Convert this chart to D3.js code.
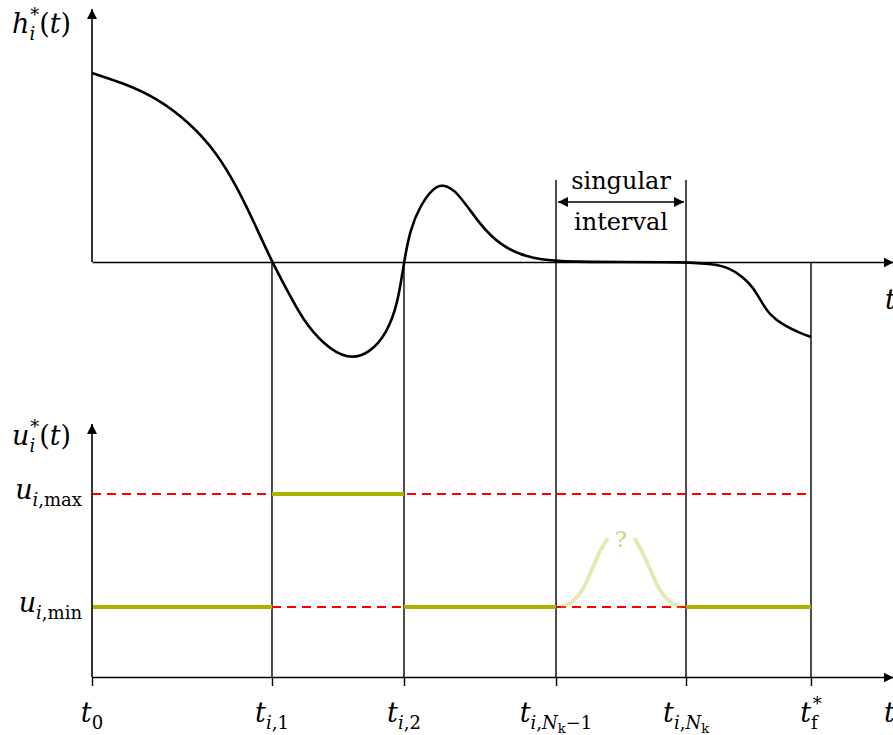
<!DOCTYPE html>
<html>
<head>
<meta charset="utf-8">
<script src="https://cdn.jsdelivr.net/npm/d3@7"></script>
<style>
  body { margin: 0; background: #fff; }
  text { font-family: "DejaVu Serif", serif; }
</style>
</head>
<body>
<div id="chart"></div>
<script>
// switching times t0, t_i1, t_i2, t_iNk-1, t_iNk, tf* (time units 0..100)
const switchTimes = [0, 22.47, 38.95, 57.93, 74.16, 89.76];
const switchTops = [null, "zero", "zero", "singular", "singular", "zero"];

// h_i*(t) curve
const hT = [0, 3.87, 8.11, 12.23, 15.6, 18.1, 20.1, 22.47, 24.34, 26.34, 28.84, 31.96, 34.71, 36.83, 38.2, 38.95,
            39.7, 40.95, 42.57, 43.82, 45.57, 48.44, 50.94, 54.06, 57.93, 65.9, 74.16,
            77.53, 79.65, 81.27, 82.52, 83.65, 84.64, 86.27, 88.39, 89.76];
const hV = [1.89, 1.79, 1.64, 1.39, 1.09, 0.75, 0.42, 0, -0.28, -0.58, -0.82, -0.98, -0.91, -0.71, -0.41, 0,
            0.32, 0.56, 0.74, 0.78, 0.71, 0.37, 0.17, 0.05, 0, 0, 0,
            -0.02, -0.06, -0.15, -0.25, -0.41, -0.53, -0.63, -0.71, -0.75];

// u_i*(t): level on each arc (0 = u_min, 1 = u_max, null = singular)
const arcLevels = [0, 1, 0, null, 0];
const uLevels = [1, 0];

// undetermined control on the singular arc (pale bump)
const bellLeftT = [58.55, 59.9, 61.2, 62.4, 63.4, 64.4];
const bellLeftU = [0, 0.044, 0.15, 0.33, 0.49, 0.61];
const bellRightT = [67.7, 68.66, 69.7, 70.9, 72.2, 73.66];
const bellRightU = [0.61, 0.49, 0.33, 0.15, 0.044, 0];

const W = 893, H = 735;
const olive = "#a9b400";

const svg = d3.select("#chart").append("svg")
  .attr("width", W).attr("height", H);

const defs = svg.append("defs");
defs.append("marker")
  .attr("id", "arrow")
  .attr("viewBox", "0 0 10 10")
  .attr("refX", 10).attr("refY", 5)
  .attr("markerWidth", 10).attr("markerHeight", 12)
  .attr("markerUnits", "userSpaceOnUse")
  .attr("orient", "auto-start-reverse")
  .append("path")
    .attr("d", "M0,0L10,5L0,10z")
    .attr("fill", "#000");

const x = d3.scaleLinear().domain([0, 100]).range([92, 893]);
const yh = d3.scaleLinear().domain([0, 1]).range([262, 162]);
const yu = d3.scaleLinear().domain([0, 1]).range([607, 494]);

const hData = hT.map((t, i) => ({t: t, v: hV[i]}));

// math-ish label: parts = [text, kind, dx]
const levels = {i: 0, r: 0, si: 7, sr: 7, pr: -12, pi: -12, ssr: 11};
function mathText(g, px, py, parts, anchor) {
  const txt = g.append("text")
    .attr("x", px).attr("y", py)
    .attr("text-anchor", anchor || "start")
    .attr("fill", "#000");
  let cur = 0;
  parts.forEach(p => {
    const k = p[1];
    const lv = levels[k];
    const size = (k == "i" || k == "r") ? 27 : (k == "ssr" ? 13 : 18);
    txt.append("tspan")
      .attr("dy", lv - cur)
      .attr("dx", p[2] || 0)
      .style("font-size", size + "px")
      .style("font-style", (k == "i" || k == "si" || k == "pi") ? "italic" : "normal")
      .text(p[0]);
    cur = lv;
  });
  return txt;
}

// ---------- upper panel ----------
const gTop = svg.append("g");

// vertical switching lines
const tops = {zero: yh(0), singular: 180};
gTop.selectAll("line.sw")
  .data(switchTimes.slice(1))
  .enter()
  .append("line")
    .attr("x1", d => x(d)).attr("x2", d => x(d))
    .attr("y1", (d, i) => tops[switchTops[i + 1]])
    .attr("y2", 677)
    .attr("stroke", "#000")
    .attr("stroke-width", 1.4);

// horizontal axis (t) of upper panel
gTop.append("g")
  .attr("transform", "translate(0," + yh(0) + ")")
  .call(d3.axisBottom(x).tickValues([]).tickSizeOuter(0))
  .call(g => g.select(".domain").attr("stroke-width", 1.6).attr("marker-end", "url(#arrow)"));

// vertical axis
gTop.append("line")
  .attr("x1", x(0)).attr("x2", x(0))
  .attr("y1", yh(0)).attr("y2", 9)
  .attr("stroke", "#000").attr("stroke-width", 1.6)
  .attr("marker-end", "url(#arrow)");

gTop.append("path")
  .datum(hData)
  .attr("fill", "none")
  .attr("stroke", "#000")
  .attr("stroke-width", 2.6)
  .attr("stroke-linejoin", "round")
  .attr("d", d3.line().x(d => x(d.t)).y(d => yh(d.v)).curve(d3.curveBasis));

mathText(gTop, 12, 33, [["h", "i"], ["i", "si"], ["*", "pr", -5], ["(", "r"], ["t", "i"], [")", "r"]]);
mathText(gTop, 885, 309, [["t", "i"]]);

// singular interval annotation
const sMid = (x(switchTimes[3]) + x(switchTimes[4])) / 2;
gTop.append("text").attr("x", sMid).attr("y", 189).attr("text-anchor", "middle")
  .style("font-size", "24px").text("singular");
gTop.append("text").attr("x", sMid).attr("y", 230).attr("text-anchor", "middle")
  .style("font-size", "24px").text("interval");
gTop.append("line")
  .attr("x1", x(switchTimes[3]) + 2).attr("x2", x(switchTimes[4]) - 2)
  .attr("y1", 202).attr("y2", 202)
  .attr("stroke", "#000").attr("stroke-width", 1.4)
  .attr("marker-start", "url(#arrow)")
  .attr("marker-end", "url(#arrow)");

// ---------- lower panel ----------
const gBot = svg.append("g");

// constraint levels (red dashed)
gBot.selectAll("line.lim")
  .data(uLevels)
  .enter()
  .append("line")
    .attr("x1", x(0)).attr("x2", x(switchTimes[5]))
    .attr("y1", d => yu(d)).attr("y2", d => yu(d))
    .attr("stroke", "#ff0000")
    .attr("stroke-width", 2)
    .attr("stroke-dasharray", "9,6");

// optimal control arcs
const arcs = arcLevels.map((lv, i) => ({a: switchTimes[i], b: switchTimes[i + 1], lv: lv}))
  .filter(d => d.lv !== null);
gBot.selectAll("line.arc")
  .data(arcs)
  .enter()
  .append("line")
    .attr("x1", d => x(d.a)).attr("x2", d => x(d.b))
    .attr("y1", d => yu(d.lv)).attr("y2", d => yu(d.lv))
    .attr("stroke", olive)
    .attr("stroke-width", 4);

// pale bump on singular arc
const bellLine = d3.line().x(d => x(d.t)).y(d => yu(d.u)).curve(d3.curveMonotoneX);
[[bellLeftT, bellLeftU], [bellRightT, bellRightU]].forEach(b => {
  gBot.append("path")
    .datum(b[0].map((t, i) => ({t: t, u: b[1][i]})))
    .attr("fill", "none")
    .attr("stroke", olive)
    .attr("stroke-opacity", 0.3)
    .attr("stroke-width", 4)
    .attr("d", bellLine);
});
gBot.append("text").attr("x", sMid).attr("y", 547).attr("text-anchor", "middle")
  .style("font-size", "22px").attr("fill", olive).attr("fill-opacity", 0.6).text("?");

// bottom axis with ticks at switching times
gBot.append("g")
  .attr("transform", "translate(0,677)")
  .call(d3.axisBottom(x).tickValues(switchTimes).tickSize(9).tickSizeOuter(0).tickFormat(""))
  .call(g => g.select(".domain").attr("stroke-width", 1.6).attr("marker-end", "url(#arrow)"))
  .call(g => g.selectAll(".tick line").attr("stroke-width", 1.4));

// vertical axis
gBot.append("line")
  .attr("x1", x(0)).attr("x2", x(0))
  .attr("y1", 677).attr("y2", 424)
  .attr("stroke", "#000").attr("stroke-width", 1.6)
  .attr("marker-end", "url(#arrow)");

mathText(gBot, 12, 445, [["u", "i"], ["i", "si"], ["*", "pr", -5], ["(", "r"], ["t", "i"], [")", "r"]]);
mathText(gBot, 82, 499, [["u", "i"], ["i", "si"], [",", "sr"], ["max", "sr"]], "end");
mathText(gBot, 82, 612, [["u", "i"], ["i", "si"], [",", "sr"], ["min", "sr"]], "end");

const tickLabels = [
  [["t", "i"], ["0", "sr"]],
  [["t", "i"], ["i", "si"], [",1", "sr"]],
  [["t", "i"], ["i", "si"], [",2", "sr"]],
  [["t", "i"], ["i", "si"], [",", "sr"], ["N", "si"], ["k", "ssr"], ["\u22121", "sr"]],
  [["t", "i"], ["i", "si"], [",", "sr"], ["N", "si"], ["k", "ssr"]],
  [["t", "i"], ["f", "sr"], ["*", "pr", -5]]
];
tickLabels.forEach((p, i) => mathText(gBot, x(switchTimes[i]), 722, p, "middle"));
mathText(gBot, 884, 722, [["t", "i"]]);
</script>
</body>
</html>
